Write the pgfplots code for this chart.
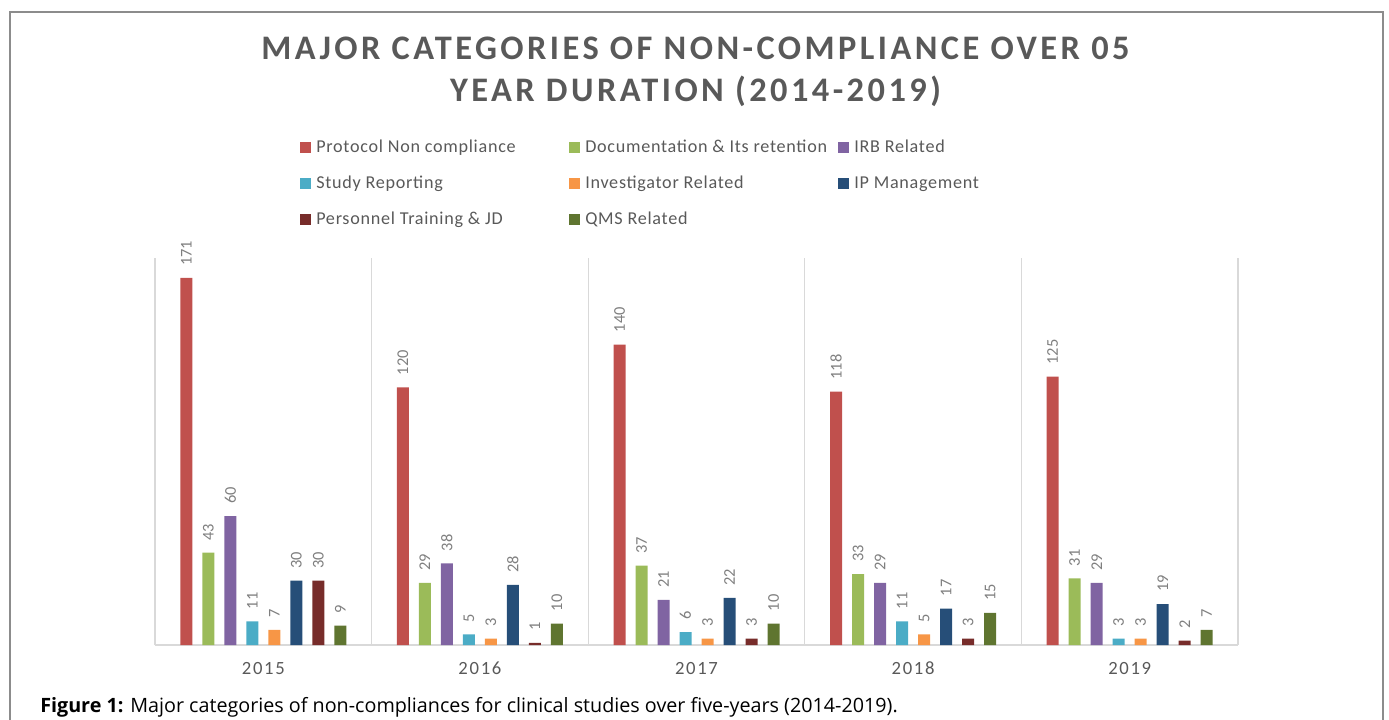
\documentclass[border=0pt]{standalone}
\usepackage{fontspec}
\setmainfont{Carlito}
\newfontfamily\titlefont[LetterSpace=10]{Carlito}
\newfontfamily\tickfont[LetterSpace=9]{Carlito}
\newfontfamily\legfont[LetterSpace=4]{Carlito}
\newfontfamily\capfont{Open Sans}
\usepackage{pgfplots}
\pgfplotsset{compat=1.18}
\definecolor{c1}{HTML}{C0504D}
\definecolor{c2}{HTML}{9BBB59}
\definecolor{c3}{HTML}{8064A2}
\definecolor{c4}{HTML}{4BACC6}
\definecolor{c5}{HTML}{F79646}
\definecolor{c6}{HTML}{264E78}
\definecolor{c7}{HTML}{772C2A}
\definecolor{c8}{HTML}{5F7530}
\definecolor{tgray}{HTML}{595959}
\definecolor{lgray}{HTML}{7F7F7F}
\definecolor{gridc}{HTML}{D9D9D9}
\definecolor{framec}{HTML}{8C8C8C}
\begin{document}
\begin{tikzpicture}
\useasboundingbox (0,0) rectangle (1041.75pt,-540pt);
\draw[framec, line width=1.1pt] (7.5pt,-560pt) -- (7.5pt,-9pt) -- (1037.25pt,-9pt) -- (1037.25pt,-560pt);
\node[anchor=base, inner sep=0pt, text=tgray, font=\titlefont\bfseries\fontsize{25.8}{30}\selectfont] at (521.6pt,-45pt) {MAJOR CATEGORIES OF NON-COMPLIANCE OVER 05};
\node[anchor=base, inner sep=0pt, text=tgray, font=\titlefont\bfseries\fontsize{25.8}{30}\selectfont] at (521.6pt,-76.5pt) {YEAR DURATION (2014-2019)};
\node[anchor=base west, inner sep=0pt, font=\capfont\fontsize{14.8}{17}\selectfont] at (30pt,-534pt) {\textbf{Figure 1:} Major categories of non-compliances for clinical studies over five-years (2014-2019).};
\begin{axis}[
  at={(116.25pt,-483.75pt)}, anchor=south west,
  scale only axis, width=812.25pt, height=290.25pt,
  ybar=7.5pt, bar width=9pt,
  xmin=-0.5, xmax=4.5, ymin=0, ymax=180.3,
  axis line style={draw=none},
  xtick={0,1,2,3,4}, xticklabels={2015,2016,2017,2018,2019},
  major tick length=0pt, minor tick length=0pt,
  minor xtick={-0.5,0.5,1.5,2.5,3.5,4.5}, xminorgrids,
  minor grid style={draw=gridc, line width=1pt},
  ytick=\empty, extra y ticks={0}, extra y tick labels={},
  extra y tick style={grid=major, major grid style={draw=gridc, line width=1.2pt}},
  xticklabel style={font=\tickfont\fontsize{14}{16}\selectfont, text=tgray, anchor=base, yshift=-21.75pt},
  nodes near coords,
  /pgf/number format/assume math mode=true,
  every node near coord/.append style={rotate=90, anchor=west, font=\fontsize{12.3}{14}\selectfont, text=lgray, inner xsep=9pt, inner ysep=0pt},
  legend columns=3,
  legend cell align=left,
  legend image code/.code={\fill[#1,draw=none] (0pt,0.3pt) rectangle (8.25pt,8.55pt); \path (12pt,0pt);},
  legend style={draw=none, fill=none, at={(0.13389,1.3186)}, anchor=north west, inner sep=0pt, row sep=0pt, column sep=0pt,
    /tikz/every even column/.style={column sep=0pt},
    nodes={inner sep=0pt, text height=13.5pt, text depth=13.5pt, font=\legfont\fontsize{13.6}{16}\selectfont, text=tgray}},
]
\addplot[fill=c1, draw=none] coordinates {(0,171) (1,120) (2,140) (3,118) (4,125)};
\addlegendentry{\makebox[189.75pt][l]{Protocol Non compliance}}
\addplot[fill=c2, draw=none] coordinates {(0,43) (1,29) (2,37) (3,33) (4,31)};
\addlegendentry{\makebox[189.75pt][l]{Documentation \& Its retention}}
\addplot[fill=c3, draw=none] coordinates {(0,60) (1,38) (2,21) (3,29) (4,29)};
\addlegendentry{\makebox[189.75pt][l]{IRB Related}}
\addplot[fill=c4, draw=none] coordinates {(0,11) (1,5) (2,6) (3,11) (4,3)};
\addlegendentry{\makebox[189.75pt][l]{Study Reporting}}
\addplot[fill=c5, draw=none] coordinates {(0,7) (1,3) (2,3) (3,5) (4,3)};
\addlegendentry{\makebox[189.75pt][l]{Investigator Related}}
\addplot[fill=c6, draw=none] coordinates {(0,30) (1,28) (2,22) (3,17) (4,19)};
\addlegendentry{\makebox[189.75pt][l]{IP Management}}
\addplot[fill=c7, draw=none] coordinates {(0,30) (1,1) (2,3) (3,3) (4,2)};
\addlegendentry{\makebox[189.75pt][l]{Personnel Training \& JD}}
\addplot[fill=c8, draw=none] coordinates {(0,9) (1,10) (2,10) (3,15) (4,7)};
\addlegendentry{\makebox[189.75pt][l]{QMS Related}}
\end{axis}
\end{tikzpicture}
\end{document}
